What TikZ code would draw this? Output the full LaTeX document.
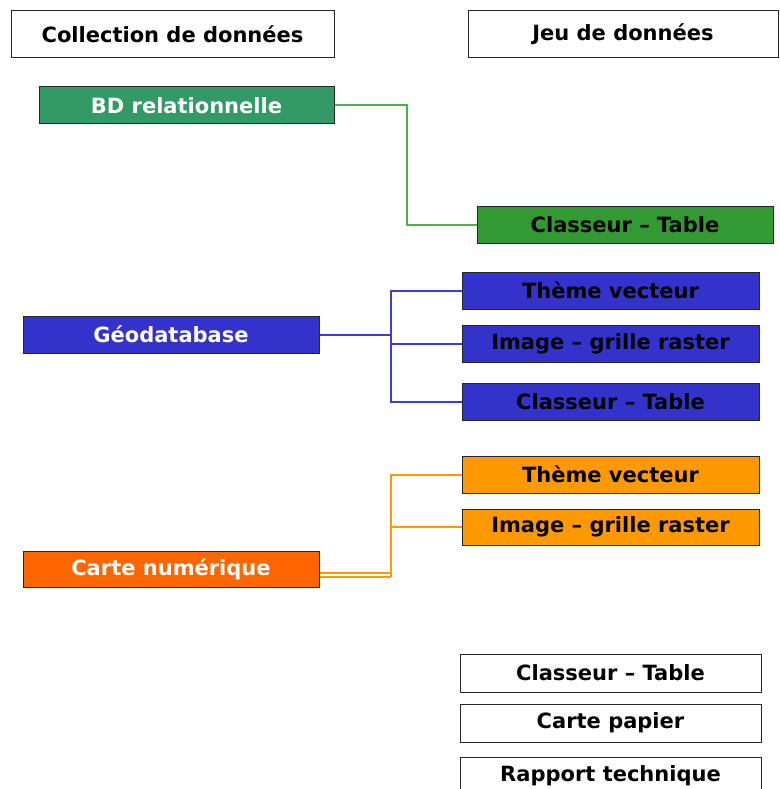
\documentclass[tikz,border=0pt]{standalone}
\usepackage{fontspec}
\setmainfont{DejaVu Sans}
\definecolor{bdgreen}{HTML}{339966}
\definecolor{tgreen}{HTML}{339933}
\definecolor{lgreen}{HTML}{4DAF4D}
\definecolor{gblue}{HTML}{3333CC}
\definecolor{lblue}{HTML}{3D3DD0}
\definecolor{gorange}{HTML}{FF9900}
\definecolor{corange}{HTML}{FF6600}
\tikzset{
  box/.style={draw=black!85, line width=1pt, rectangle, inner sep=0pt,
    font=\bfseries\fontsize{21}{24}\selectfont},
  hdr/.style={box, fill=white, minimum height=47pt},
  gbox/.style={box, minimum width=297pt, minimum height=37pt},
  wbox/.style={box, fill=white, minimum width=301pt, minimum height=38pt},
  gline/.style={draw=lgreen, line width=2pt},
  bline/.style={draw=lblue, line width=2pt},
  oline/.style={draw=gorange, line width=2pt},
}
\begin{document}
\begin{tikzpicture}[x=1pt,y=-1pt]
\useasboundingbox (0,0) rectangle (779,789);
\fill[white] (0,0) rectangle (779,789);
% headers
\node[hdr, minimum width=323pt] (h1) at (172.5,34.5) {Collection de données};
\node[hdr, minimum width=310pt] (h2) at (623,34.5) {Jeu de données};
% green group
\node[gbox, fill=bdgreen, text=white, minimum width=295pt] (bd) at (186.5,105.5) {BD relationnelle};
\node[gbox, fill=tgreen, text=black, minimum width=296pt] (ctg) at (625,224.5) {Classeur – Table};
% blue group
\node[gbox, fill=gblue, text=white, minimum width=296pt] (geo) at (171,334.5) {Géodatabase};
\node[gbox, fill=gblue, text=black] (tvb) at (610.5,290.5) {Thème vecteur};
\node[gbox, fill=gblue, text=black] (igb) at (610.5,343.5) {Image – grille raster};
\node[gbox, fill=gblue, text=black] (ctb) at (610.5,401.5) {Classeur – Table};
% orange group
\node[gbox, fill=gorange, text=black] (tvo) at (610.5,474.5) {Thème vecteur};
\node[gbox, fill=gorange, text=black, minimum height=36pt] (igo) at (610.5,527) {Image – grille raster};
\node[gbox, fill=corange, text=white, minimum width=296pt, minimum height=36pt] (cn) at (171,569) {Carte numérique};
% white group
\node[wbox] (ctw) at (610.5,673) {Classeur – Table};
\node[wbox] (cp) at (610.5,723) {Carte papier};
\node[wbox] (rt) at (610.5,776) {Rapport technique};
% green connector
\draw[gline] (bd.east) -- ++(72,0) |- (ctg.west);
% blue connectors
\coordinate (jb) at (391,334.5);
\draw[bline] (geo.east) -- (jb);
\draw[bline] (jb) |- (tvb.west);
\draw[bline] (jb) |- (ctb.west);
\draw[bline] (jb |- igb.west) -- (igb.west);
% orange connectors
\coordinate (jo) at (391,577);
\coordinate (jo2) at (391,573);
\draw[oline] ([yshift=-8pt]cn.east) -- (jo);
\draw[oline] ([yshift=-4pt]cn.east) -- (jo2);
\draw[oline] (jo) |- (tvo.west);
\draw[oline] (jo |- igo.west) -- (igo.west);
\end{tikzpicture}
\end{document}
